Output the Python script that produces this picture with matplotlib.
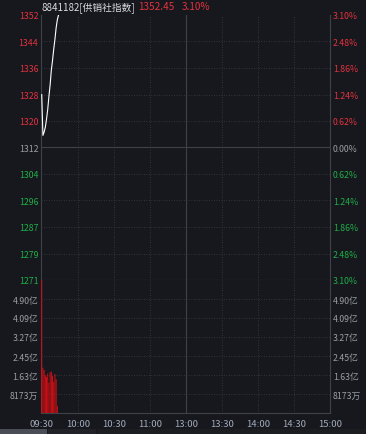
import matplotlib
matplotlib.use("Agg")
import matplotlib.pyplot as plt
import numpy as np

plt.rcParams['font.family'] = ['Noto Sans CJK SC', 'DejaVu Sans']

# data
base_price = 1311.78
pct_range = 3.10
minutes = list(range(15))
prices = [1328.0, 1315.5, 1316.5, 1318.0, 1320.5, 1323.5, 1327.5, 1331.0,
          1335.5, 1338.5, 1342.0, 1345.0, 1348.5, 1351.0, 1352.45]
volumes = [6.5, 1.95, 1.85, 1.62, 1.55, 1.70, 1.30, 1.75, 1.78, 1.60,
           1.35, 1.68, 1.45, 0.30]  # 亿
price_labels = ['1352', '1344', '1336', '1328', '1320', '1312',
                '1304', '1296', '1287', '1279', '1271']
pct_labels = ['3.10%', '2.48%', '1.86%', '1.24%', '0.62%', '0.00%',
              '0.62%', '1.24%', '1.86%', '2.48%', '3.10%']
vol_ticks = [0.8173, 1.63, 2.45, 3.27, 4.09, 4.90]
vol_labels = ['8173万', '1.63亿', '2.45亿', '3.27亿', '4.09亿', '4.90亿']
vol_max = 5.72
time_ticks = [0, 30, 60, 90, 120, 150, 180, 210, 240]
time_labels = ['09:30', '10:00', '10:30', '11:00', '13:00',
               '13:30', '14:00', '14:30', '15:00']
title_code = '8841182[供销社指数]'
last_price = '1352.45'
last_pct = '3.10%'

BG = '#16181d'
GRID = '#3b3e45'
FRAME = '#3e4148'
RED = '#e2323f'
GREEN = '#1fae48'
GRAY = '#9a9da4'
TIME = '#a3abbb'
FS = 6.3

W, H = 366, 435
fig = plt.figure(figsize=(W / 100, H / 100), dpi=100, facecolor=BG)

L, R = 41 / W, 330 / W
ax = fig.add_axes([L, 1 - 281 / H, R - L, (281 - 16) / H], facecolor=BG)
axv = fig.add_axes([L, 1 - 414 / H, R - L, (414 - 281) / H], facecolor=BG)

lo = base_price * (1 - pct_range / 100)
hi = base_price * (1 + pct_range / 100)
pticks = np.linspace(hi, lo, 11)

for a in (ax, axv):
    a.set_xlim(-0.6, 240)
    for s in a.spines.values():
        s.set_color(FRAME)
        s.set_linewidth(0.8)
    a.spines['top'].set_visible(False)
    for t in time_ticks[1:-1]:
        if t == 120:
            a.axvline(t, color=FRAME, lw=0.8)
        else:
            a.axvline(t, color=GRID, lw=0.6, ls=(0, (1, 2)))
    a.tick_params(length=0)

ax.set_ylim(lo, hi)
for i, v in enumerate(pticks):
    if i == 5:
        ax.axhline(v, color=FRAME, lw=0.8)
    elif 0 < i < 10:
        ax.axhline(v, color=GRID, lw=0.6, ls=(0, (1, 2)))
ax.plot(minutes, prices, color='white', lw=0.8, zorder=5)
ax.set_yticks(pticks)
ax.set_yticklabels(price_labels, fontsize=FS)
ax.set_xticks([])
ax.tick_params(axis='y', pad=2)

axr = ax.twinx()
axr.set_ylim(lo, hi)
axr.set_yticks(pticks)
axr.set_yticklabels(pct_labels, fontsize=FS)
axr.tick_params(length=0, pad=2)
for s in axr.spines.values():
    s.set_visible(False)

for labs in (ax.get_yticklabels(), axr.get_yticklabels()):
    for i, lab in enumerate(labs):
        lab.set_color(RED if i < 5 else (GRAY if i == 5 else GREEN))

axv.set_ylim(0, vol_max)
for v in vol_ticks:
    axv.axhline(v, color=GRID, lw=0.6, ls=(0, (1, 2)))
axv.bar(range(len(volumes)), volumes, width=0.8, color='#d60f14', lw=0,
        zorder=5, snap=False)
axv.set_yticks(vol_ticks)
axv.set_yticklabels(vol_labels, fontsize=FS, color=GRAY)
axv.tick_params(axis='y', pad=2)
axvr = axv.twinx()
axvr.set_ylim(0, vol_max)
axvr.set_yticks(vol_ticks)
axvr.set_yticklabels(vol_labels, fontsize=FS, color=GRAY)
axvr.tick_params(length=0, pad=2)
for s in axvr.spines.values():
    s.set_visible(False)
axv.set_xticks(time_ticks)
axv.set_xticklabels(time_labels, fontsize=6.8, color=TIME)
axv.tick_params(axis='x', pad=4)

# title row
fig.text(41 / W, 1 - 7.5 / H, title_code, fontsize=7.0, color='#d8dbe0', va='center')
fig.text(138 / W, 1 - 7.5 / H, last_price, fontsize=7.2, color=RED, va='center')
fig.text(182 / W, 1 - 7.5 / H, last_pct, fontsize=7.2, color=RED, va='center')

# bottom tab strip
fig.patches.append(plt.Rectangle((0, 0), 47 / W, 5 / H, transform=fig.transFigure,
                                 color='#4a4d55', lw=0))
fig.patches.append(plt.Rectangle((48 / W, 0), 48 / W, 5 / H, transform=fig.transFigure,
                                 color='#202227', lw=0))
fig.patches.append(plt.Rectangle((97 / W, 0), 269 / W, 5 / H, transform=fig.transFigure,
                                 color='#1b1d21', lw=0))

fig.savefig('out.png', dpi=100, facecolor=BG)
